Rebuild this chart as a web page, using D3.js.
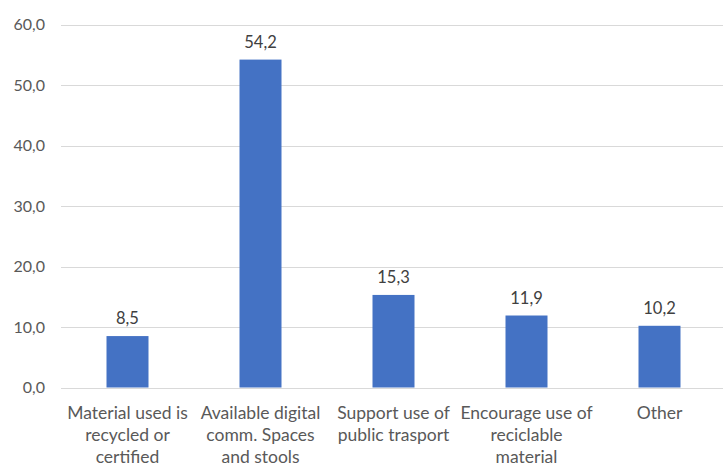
<!DOCTYPE html>
<html><head><meta charset="utf-8">
<script src="https://cdn.jsdelivr.net/npm/d3@7"></script>
<style>body{margin:0;background:#fff}svg{display:block}</style>
</head><body>
<script>
const categories = [
  ["Material used is","recycled or","certified"],
  ["Available digital","comm. Spaces","and stools"],
  ["Support use of","public trasport"],
  ["Encourage use of","reciclable","material"],
  ["Other"]
];
const values = [8.5, 54.2, 15.3, 11.9, 10.2];
const yTicks = [0, 10, 20, 30, 40, 50, 60];

const W = 723, H = 472;
const svg = d3.select("body").append("svg").attr("width", W).attr("height", H);
const font = "Lato, 'Open Sans', sans-serif";

const x = d3.scaleBand().domain(d3.range(categories.length)).range([61, 726]).paddingInner(0.685).paddingOuter(0.3425);
const y = d3.scaleLinear().domain([0, 60]).range([387.5, 24.5]);
const fmt = v => d3.format(".1f")(v).replace(".", ",");

// gridlines
svg.append("g").selectAll("line").data(yTicks).join("line")
  .attr("x1", 61).attr("x2", 726)
  .attr("y1", d => Math.round(y(d)) + 0.5).attr("y2", d => Math.round(y(d)) + 0.5)
  .attr("stroke", "#d9d9d9").attr("stroke-width", 1);

// y axis labels
const yAxis = d3.axisLeft(y).tickValues(yTicks).tickFormat(fmt).tickSize(0).tickPadding(0);
const gy = svg.append("g").attr("transform", "translate(45,0)").call(yAxis);
gy.select(".domain").remove();
gy.selectAll("text").attr("fill", "#595959").style("font-family", font).style("font-size", "16px");

// bars
const bw = 42;
svg.append("g").selectAll("rect").data(values).join("rect")
  .attr("x", (d, i) => x(i) + x.bandwidth() / 2 - bw / 2)
  .attr("width", bw)
  .attr("y", d => y(d))
  .attr("height", d => y(0) - y(d))
  .attr("fill", "#4472c4");

// value labels
svg.append("g").selectAll("text").data(values).join("text")
  .attr("x", (d, i) => x(i) + x.bandwidth() / 2)
  .attr("y", d => y(d) - 12)
  .attr("text-anchor", "middle")
  .attr("fill", "#404040")
  .style("font-family", font).style("font-size", "16.5px")
  .text(fmt);

// x axis category labels
const xAxis = d3.axisBottom(x).tickSize(0).tickFormat("");
const gx = svg.append("g").attr("transform", `translate(0,${y(0)})`).call(xAxis);
gx.select(".domain").remove();
gx.selectAll(".tick").each(function(i) {
  const t = d3.select(this).append("text")
    .attr("text-anchor", "middle").attr("fill", "#595959")
    .style("font-family", font).style("font-size", "17.5px");
  categories[i].forEach((line, k) => {
    t.append("tspan").attr("x", 0).attr("y", 31 + k * 22).text(line);
  });
});
</script>
</body></html>
